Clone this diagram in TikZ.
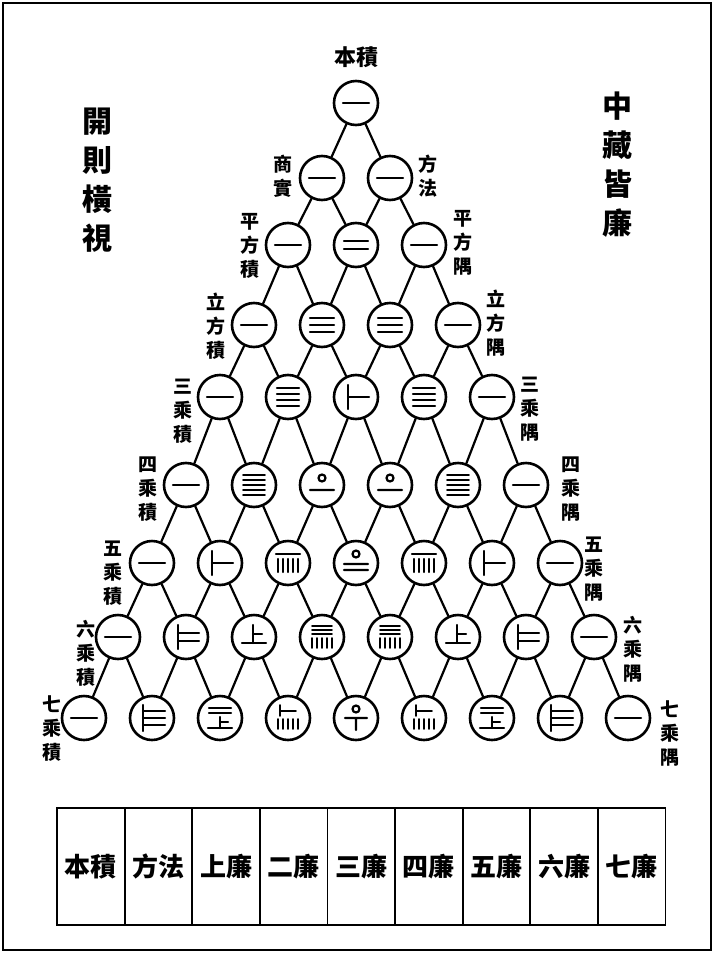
\documentclass[tikz,border=0pt]{standalone}
\usepackage{fontspec}
\newfontfamily\cjk{Noto Sans CJK TC}
\begin{document}
\begin{tikzpicture}[x=1pt,y=-1pt,line cap=round]
\useasboundingbox (0,0) rectangle (714,953);
\tikzset{
 num/.style={circle, draw, line width=2.6pt, minimum size=44pt, inner sep=0pt},
 link/.style={line width=2.2pt},
 rod/.style={line width=2.2pt},
 lab/.style={font=\cjk\bfseries\fontsize{19}{24}\selectfont, align=center, inner sep=0pt},
 big/.style={font=\cjk\bfseries\fontsize{30}{39}\selectfont, align=center, inner sep=0pt},
 cell/.style={draw, line width=1.8pt, minimum width=67.6pt, minimum height=117pt, inner sep=0pt, font=\cjk\bfseries\fontsize{26}{30}\selectfont},
 g1/.pic={\draw[rod] (-13,0)--(13,0);},
 g2/.pic={\draw[rod] (-12,-4)--(12,-4) (-12,4)--(12,4);},
 g3/.pic={\draw[rod] (-12,-7)--(12,-7) (-12,0)--(12,0) (-12,7)--(12,7);},
 g4/.pic={\draw[rod] (-11,-9)--(11,-9) (-11,-3)--(11,-3) (-11,3)--(11,3) (-11,9)--(11,9);},
 g5/.pic={\draw[rod,line width=1.9pt] (-11,-10)--(11,-10) (-11,-5)--(11,-5) (-11,0)--(11,0) (-11,5)--(11,5) (-11,10)--(11,10);},
 g6/.pic={\draw[rod] (-8,-12)--(-8,12) (-8,0)--(13,0);},
 g7/.pic={\draw[rod] (-8,-12)--(-8,12) (-8,-4)--(13,-4) (-8,4)--(13,4);},
 g8/.pic={\draw[rod] (-9,-13)--(-9,13) (-9,-7)--(13,-7) (-9,0)--(13,0) (-9,7)--(13,7);},
 g10/.pic={\draw[rod] (0,-7) circle (3.5) (-12,5)--(12,5);},
 g15/.pic={\draw[rod] (-12,-9)--(12,-9) (-10,-4)--(-10,9) (-5,-4)--(-5,9) (0,-4)--(0,9) (5,-4)--(5,9) (10,-4)--(10,9);},
 g20/.pic={\draw[rod] (0,-9) circle (3.5) (-12,1)--(12,1) (-12,7)--(12,7);},
 g21/.pic={\draw[rod] (-1,-12)--(-1,6) (-1,-3)--(8,-3) (-12,6)--(12,6);},
 g28/.pic={\draw[rod] (-11,-10)--(11,-10) (-11,-5)--(11,-5) (0,-1)--(0,10) (0,4)--(8,4) (-12,10)--(12,10);},
 g35/.pic={\draw[rod,line width=1.9pt] (-10,-11)--(10,-11) (-10,-7)--(10,-7) (-10,-3)--(10,-3) (-10,1)--(-10,11) (-5,1)--(-5,11) (0,1)--(0,11) (5,1)--(5,11) (10,1)--(10,11);},
 g56/.pic={\draw[rod,line width=1.9pt] (-8,-13)--(-8,-2) (-8,-7)--(8,-7) (-10,1)--(-10,11) (-5,1)--(-5,11) (0,1)--(0,11) (5,1)--(5,11) (10,1)--(10,11);},
 g70/.pic={\draw[rod] (0,-9) circle (3.5) (-11,0)--(11,0) (0,0)--(0,12);}
}
% frame
\draw[line width=1.5pt] (3,3) rectangle (711,950);
% triangle of circles
\foreach \r/\vals in {0/{1},1/{1,1},2/{1,2,1},3/{1,3,3,1},4/{1,4,6,4,1},5/{1,5,10,10,5,1},6/{1,6,15,20,15,6,1},7/{1,7,21,35,35,21,7,1},8/{1,8,28,56,70,56,28,8,1}} {
  \foreach \v [count=\i from 0] in \vals {
    \pgfmathsetmacro\xx{356+(\i-\r/2)*68}
    \pgfmathsetmacro\yy{{103,178,245,325,397,485,563,637,718}[\r]}
    \node[num] (c\r-\i) at (\xx,\yy) {};
    \pic at (c\r-\i) {g\v};
  }
}
% connectors
\foreach \r in {0,...,7} {
  \pgfmathtruncatemacro\rn{\r+1}
  \foreach \i in {0,...,\r} {
    \pgfmathtruncatemacro\ii{\i+1}
    \draw[link] (c\r-\i) -- (c\rn-\i);
    \draw[link] (c\r-\i) -- (c\rn-\ii);
  }
}
% labels
\node[lab,font=\cjk\bfseries\fontsize{22}{24}\selectfont] (top) at (356,57) {本積};
\node[lab] (l1) at (283,176) {商\\實};
\node[lab] (r1) at (428,176) {方\\法};
\node[lab] (l2) at (250,246) {平\\方\\積};
\node[lab] (r2) at (463,243) {平\\方\\隅};
\node[lab] (l3) at (216,326) {立\\方\\積};
\node[lab] (r3) at (496,323) {立\\方\\隅};
\node[lab] (l4) at (183,411) {三\\乘\\積};
\node[lab] (r4) at (530,409) {三\\乘\\隅};
\node[lab] (l5) at (148,489) {四\\乘\\積};
\node[lab] (r5) at (571,489) {四\\乘\\隅};
\node[lab] (l6) at (113,573) {五\\乘\\積};
\node[lab] (r6) at (594,569) {五\\乘\\隅};
\node[lab] (l7) at (86,653) {六\\乘\\積};
\node[lab] (r7) at (633,649) {六\\乘\\隅};
\node[lab] (l8) at (52,729) {七\\乘\\積};
\node[lab] (r8) at (670,733) {七\\乘\\隅};
\node[big] (left) at (97,180) {開\\則\\橫\\視};
\node[big] (right) at (617,165) {中\\藏\\皆\\廉};
% table
\foreach \t [count=\k from 0] in {本積,方法,上廉,二廉,三廉,四廉,五廉,六廉,七廉}
  \node[cell] (t\k) at ({57+67.6*(\k+0.5)},866.5) {\t};
\end{tikzpicture}
\end{document}
